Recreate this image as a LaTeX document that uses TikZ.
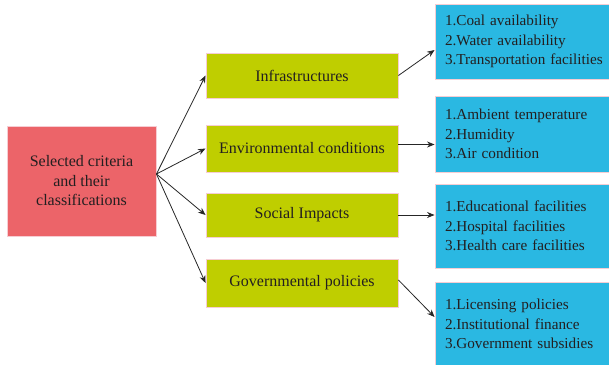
\documentclass[tikz,border=0pt]{standalone}
\usepackage{fontspec}
\setmainfont{Liberation Serif}
\usetikzlibrary{arrows.meta,calc}
\definecolor{critred}{HTML}{EC6469}
\definecolor{critgreen}{HTML}{BFCE00}
\definecolor{critblue}{HTML}{2AB8E2}
\definecolor{edgepink}{HTML}{F6CDD3}
\definecolor{inkgrey}{HTML}{231F20}
\begin{document}
\begin{tikzpicture}[x=1pt,y=-1pt,
  box/.style={draw=edgepink, line width=0.9pt, text=inkgrey,
    font=\fontsize{16}{19.5}\selectfont, inner sep=0pt, align=center},
  rootbox/.style={box, fill=critred, minimum width=149pt, minimum height=110pt},
  midbox/.style={box, fill=critgreen, minimum width=192pt},
  % the blue boxes run past the right edge of the page
  leafbox/.style={box, fill=critblue, text width=180pt, inner xsep=10pt, align=left,
    font=\fontsize{15.2}{19.5}\selectfont},
  link/.style={-{Stealth[length=7.5pt,width=6pt]}, line width=0.8pt, draw=black!85}]
\useasboundingbox (0,0) rectangle (609,364);
\clip (0,0) rectangle (609,364);

% root
\node[rootbox] (root) at (81.5,181) {Selected criteria\\and their\\classifications};

% criteria
\node[midbox, minimum height=45pt] (infra)  at (302,75.5)  {Infrastructures};
\node[midbox, minimum height=47pt] (env)    at (302,148.5) {Environmental conditions};
\node[midbox, minimum height=44pt] (social) at (302,215)   {Social Impacts};
\node[midbox, minimum height=48pt] (gov)    at (302,283)   {Governmental policies};

% classifications
\node[leafbox, minimum height=75pt] (coal) at (535,41.5)
  {1.Coal availability\\2.Water availability\\3.Transportation facilities};
\node[leafbox, minimum height=76pt] (amb) at (535,134)
  {1.Ambient temperature\\2.Humidity\\3.Air condition};
\node[leafbox, minimum height=84pt] (edu) at (535,226)
  {1.Educational facilities\\2.Hospital facilities\\3.Health care facilities};
\node[leafbox, minimum height=84pt] (lic) at (535,324)
  {1.Licensing policies\\2.Institutional finance\\3.Government subsidies};

% connectors
\coordinate (hub) at ([yshift=7pt]root.east);
\draw[link] (hub) -- (infra.west);
\draw[link] (hub) -- (env.west);
\draw[link] (hub) -- (social.west);
\draw[link] (hub) -- (gov.west);

\draw[link] (infra.east) -- ([yshift=-8.5pt]coal.west);
\draw[link] ([yshift=4pt]env.east) -- ([yshift=4pt]env.east -| amb.west);
\draw[link] (social.east) -- (social.east -| edu.west);
\draw[link] ([yshift=3pt]gov.east) -- ([yshift=7pt]lic.west);
\end{tikzpicture}
\end{document}
